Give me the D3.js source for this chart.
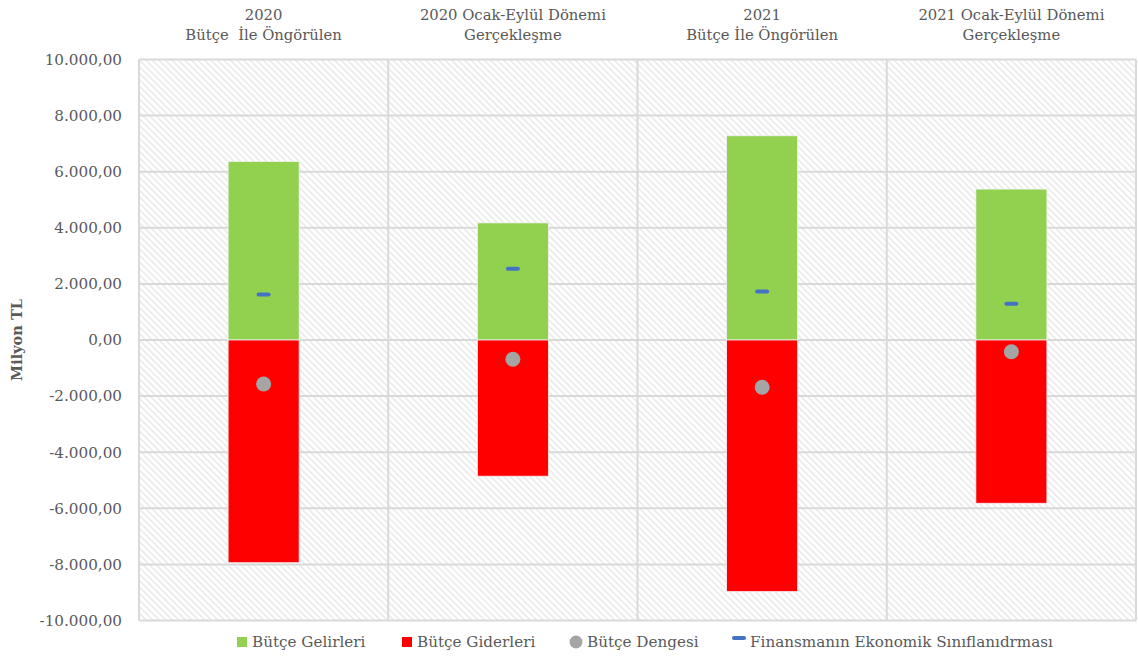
<!DOCTYPE html>
<html>
<head>
<meta charset="utf-8">
<script src="https://cdn.jsdelivr.net/npm/d3@7"></script>
<style>
  body { margin: 0; background: #fff; }
  text { font-family: "DejaVu Serif", "Liberation Serif", serif; fill: #595959; white-space: pre; }
</style>
</head>
<body>
<svg id="chart" width="1138" height="656"></svg>
<script>
// category headers (two lines each)
const categories = ["c1", "c2", "c3", "c4"];
const headerTop = ["2020", "2020 Ocak-Eylül Dönemi", "2021", "2021 Ocak-Eylül Dönemi"];
const headerBottom = ["Bütçe  İle Öngörülen", "Gerçekleşme", "Bütçe İle Öngörülen", "Gerçekleşme"];

// values, milyon TL
const gelirler = [6365, 4175, 7280, 5380];
const giderler = [-7940, -4855, -8970, -5820];
const denge = [-1570, -685, -1685, -420];
const finansman = [1620, 2540, 1725, 1290];

const yTicks = [-10000, -8000, -6000, -4000, -2000, 0, 2000, 4000, 6000, 8000, 10000];
const legendNames = ["Bütçe Gelirleri", "Bütçe Giderleri", "Bütçe Dengesi", "Finansmanın Ekonomik Sınıflanıdrması"];

const margin = {top: 59.5, right: 2, bottom: 35.5, left: 139};
const W = 1138, H = 656;

const svg = d3.select("#chart");

// hatch for the plot background
const defs = svg.append("defs");
defs.append("pattern")
    .attr("id", "hatch")
    .attr("patternUnits", "userSpaceOnUse")
    .attr("width", 4.6).attr("height", 4.6)
    .attr("patternTransform", "rotate(-45)")
  .append("rect")
    .attr("width", 1.5).attr("height", 4.6)
    .attr("fill", "#e8e8e8");

const x = d3.scaleBand()
    .domain(categories)
    .range([margin.left, W - margin.right])
    .padding(0);

const y = d3.scaleLinear()
    .domain([-10000, 10000])
    .range([H - margin.bottom, margin.top]);

const loc = d3.formatLocale({decimal: ",", thousands: ".", grouping: [3], currency: ["", ""], minus: "-"});
const fmt = loc.format(",.2f");

const barW = x.bandwidth() * 0.285;

// background
svg.append("rect")
    .attr("x", margin.left).attr("y", margin.top)
    .attr("width", W - margin.right - margin.left)
    .attr("height", y(-10000) - y(10000))
    .attr("fill", "url(#hatch)");

// horizontal grid
svg.append("g")
  .selectAll("line")
  .data(yTicks)
  .join("line")
    .attr("x1", margin.left).attr("x2", W - margin.right)
    .attr("y1", d => y(d)).attr("y2", d => y(d))
    .attr("stroke", "#d9d9d9").attr("stroke-width", 2);

// vertical category separators + border
const edges = categories.map(c => x(c)).concat([x.range()[1]]);
svg.append("g")
  .selectAll("line")
  .data(edges)
  .join("line")
    .attr("x1", d => d).attr("x2", d => d)
    .attr("y1", y(10000)).attr("y2", y(-10000))
    .attr("stroke", "#d9d9d9").attr("stroke-width", 2);

// y axis labels
const yAxis = svg.append("g")
    .attr("transform", `translate(${margin.left - 17},0)`)
    .call(d3.axisLeft(y).tickValues(yTicks).tickFormat(fmt).tickSize(0).tickPadding(0));
yAxis.select(".domain").remove();
yAxis.selectAll("text")
    .attr("fill", "#595959")
    .style("font-size", "15.2px")
    .style("font-family", '"DejaVu Serif", serif');

svg.append("text")
    .attr("transform", `translate(22,${y(0)}) rotate(-90)`)
    .attr("text-anchor", "middle")
    .style("font-size", "14.5px")
    .style("font-weight", "bold")
    .text("Milyon TL");

// bars
const cx = i => x(categories[i]) + x.bandwidth() / 2;

svg.append("g")
  .selectAll("rect")
  .data(gelirler)
  .join("rect")
    .attr("x", (d, i) => cx(i) - barW / 2)
    .attr("y", d => y(d))
    .attr("width", barW)
    .attr("height", d => y(0) - y(d))
    .attr("fill", "#92d050")
    .attr("stroke", "#f2f2f2").attr("stroke-width", 0.8);

svg.append("g")
  .selectAll("rect")
  .data(giderler)
  .join("rect")
    .attr("x", (d, i) => cx(i) - barW / 2)
    .attr("y", y(0))
    .attr("width", barW)
    .attr("height", d => y(d) - y(0))
    .attr("fill", "#ff0000")
    .attr("stroke", "#f2f2f2").attr("stroke-width", 0.8);

// balance dots
svg.append("g")
  .selectAll("circle")
  .data(denge)
  .join("circle")
    .attr("cx", (d, i) => cx(i))
    .attr("cy", d => y(d))
    .attr("r", 7.5)
    .attr("fill", "#a5a5a5");

// financing dashes
svg.append("g")
  .selectAll("rect")
  .data(finansman)
  .join("rect")
    .attr("x", (d, i) => cx(i) - 7)
    .attr("y", d => y(d) - 2)
    .attr("width", 14).attr("height", 4)
    .attr("rx", 2)
    .attr("fill", "#4472c4");

// category headers
const head = svg.append("g")
  .selectAll("text")
  .data(categories)
  .join("text")
    .attr("text-anchor", "middle")
    .style("font-size", "14.8px");
head.append("tspan")
    .attr("x", (d, i) => cx(i)).attr("y", 20)
    .text((d, i) => headerTop[i]);
head.append("tspan")
    .attr("x", (d, i) => cx(i)).attr("y", 40)
    .text((d, i) => headerBottom[i]);

// legend
const legX = [237, 402, 569, 732];
const lg = svg.append("g").attr("transform", "translate(0,642)");
const item = lg.selectAll("g")
  .data(legendNames)
  .join("g")
    .attr("transform", (d, i) => `translate(${legX[i]},0)`);

item.each(function(d, i) {
  const g = d3.select(this);
  if (i === 0 || i === 1) {
    g.append("rect").attr("x", 0).attr("y", -5).attr("width", 10).attr("height", 10)
      .attr("fill", i === 0 ? "#92d050" : "#ff0000");
  } else if (i === 2) {
    g.append("circle").attr("cx", 7).attr("cy", 0).attr("r", 6.5).attr("fill", "#a5a5a5");
  } else {
    g.append("rect").attr("x", 0).attr("y", -6).attr("width", 14).attr("height", 4)
      .attr("rx", 2).attr("fill", "#4472c4");
  }
  g.append("text")
    .attr("x", i === 0 || i === 1 ? 15 : 18)
    .attr("y", 0)
    .attr("dy", "0.36em")
    .style("font-size", "15.2px")
    .text(d);
});
</script>
</body>
</html>
